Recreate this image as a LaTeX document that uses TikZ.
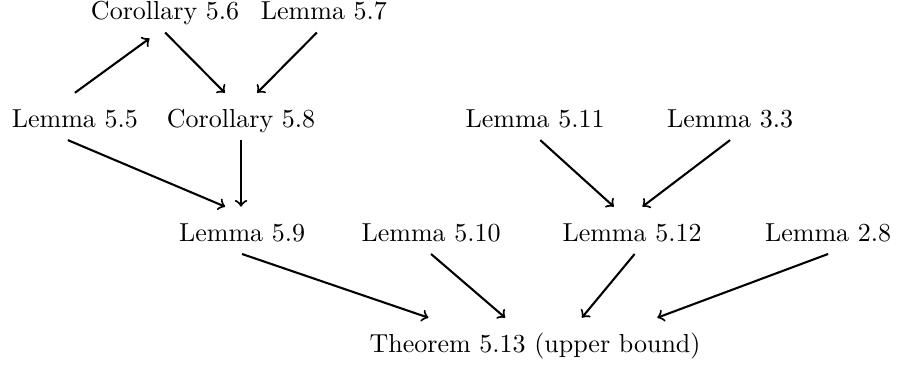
\documentclass[tikz,border=0pt]{standalone}
\begin{document}
\begin{tikzpicture}[x=1pt, y=1pt,
    res/.style={anchor=base, inner sep=3pt, text height=10pt, text depth=1.8pt},
    uses/.style={->, thick}]
    \useasboundingbox (0,0) rectangle (345.4,141.2);

    % Top row
    \node[res] (c56) at (63.5,133.7) {Corollary 5.6};
    \node[res] (l57) at (124.6,133.7) {Lemma 5.7};

    % Second row
    \node[res] (l55) at (28.8,92.3) {Lemma 5.5};
    \node[res] (c58) at (92.7,92.3) {Corollary 5.8};
    \node[res] (l511) at (205.8,92.3) {Lemma 5.11};
    \node[res] (l33) at (280.8,92.3) {Lemma 3.3};

    % Third row
    \node[res] (l59) at (93.1,48.5) {Lemma 5.9};
    \node[res] (l510) at (165.8,48.5) {Lemma 5.10};
    \node[res] (l512) at (243.1,48.5) {Lemma 5.12};
    \node[res] (l28) at (318.5,48.5) {Lemma 2.8};

    % Main result
    \node[res] (t513) at (205.8,5.8) {Theorem 5.13 (upper bound)};

    % Arrows into Corollary 5.6 and Corollary 5.8
    \draw[uses] (l55.north) -- ([xshift=-6pt,yshift=-2.3pt]c56.south);
    \draw[uses] (c56.south) -- ([xshift=-6.2pt]c58.north);
    \draw[uses] ([xshift=-2.7pt]l57.south) -- ([xshift=6.2pt]c58.north);

    % Arrows into Lemma 5.9
    \draw[uses] ([xshift=-2.7pt]l55.south) -- ([xshift=-6.5pt]l59.north);
    \draw[uses] (c58.south) -- (c58.south |- l59.north);

    % Arrows into Lemma 5.12
    \draw[uses] ([xshift=2pt]l511.south) -- ([xshift=-7pt]l512.north);
    \draw[uses] (l33.south) -- ([xshift=4pt]l512.north);

    % Arrows into Theorem 5.13
    \draw[uses] (l59.south) -- ([xshift=-41pt]t513.north);
    \draw[uses] (l510.south) -- ([xshift=-11.5pt]t513.north);
    \draw[uses] ([xshift=1pt]l512.south) -- ([xshift=18pt]t513.north);
    \draw[uses] (l28.south) -- ([xshift=47pt]t513.north);
\end{tikzpicture}
\end{document}
